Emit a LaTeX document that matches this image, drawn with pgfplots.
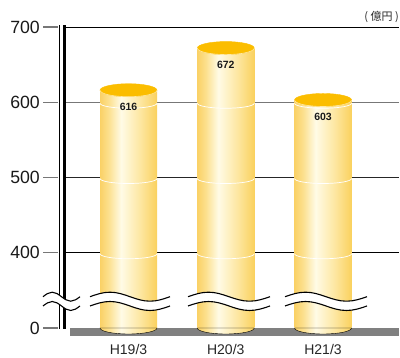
\documentclass[border=0pt]{standalone}
\usepackage{pgfplots}
\pgfplotsset{compat=1.18}
\usepackage{pgfplotstable}
\usepackage{fontspec}
\setmainfont{Liberation Sans}
\newfontfamily\cjk{Noto Sans CJK JP}

\definecolor{cylA}{HTML}{FAD166}
\definecolor{cylB}{HTML}{FCE08E}
\definecolor{cylC}{HTML}{FFFBE6}
\definecolor{cylD}{HTML}{FDE7A2}
\definecolor{cylE}{HTML}{FAD15E}
\definecolor{topc}{HTML}{FBBD00}
\definecolor{rimc}{HTML}{FFE9A6}
\definecolor{floorc}{HTML}{808080}
\definecolor{tickc}{HTML}{777777}

% horizontal gradient across each cylinder (path maps to 25bp..75bp)
\pgfdeclarehorizontalshading{cyl}{100bp}{color(0bp)=(cylA); color(25bp)=(cylA);
  color(32.5bp)=(cylB); color(43.5bp)=(cylC); color(60bp)=(cylD);
  color(75bp)=(cylE); color(100bp)=(cylE)}

% cylinder pieces used as plot marks
\pgfdeclareplotmark{cylbot}{%
  \shade[shading=cyl] (-28.5pt,0pt) arc[start angle=180,end angle=360,x radius=28.5pt,y radius=6pt] -- cycle;}
\pgfdeclareplotmark{cylring}{%
  \draw[white, line width=0.7pt] (-28.5pt,-1pt) arc[start angle=180,end angle=360,x radius=28.5pt,y radius=5pt];}
\pgfdeclareplotmark{cyltop}{%
  \fill[topc] (0pt,0pt) ellipse[x radius=28.5pt, y radius=6.5pt];
  \draw[rimc, line width=0.6pt] (-28.5pt,0pt) arc[start angle=180,end angle=360,x radius=28.5pt,y radius=6.5pt];}

% wavy axis break between x positions #1 and #2 (pt)
\newcommand\axisbreak[2]{%
  \pgfmathsetmacro\q{(#2-#1)/4}%
  \fill[white] (#1pt,31.3pt) sin ++(\q pt,4.5pt) cos ++(\q pt,-4.5pt) sin ++(\q pt,-4.5pt) cos ++(\q pt,4.5pt)
    -- ++(0,-9.3pt) sin ++(-\q pt,-4.5pt) cos ++(-\q pt,4.5pt) sin ++(-\q pt,4.5pt) cos ++(-\q pt,-4.5pt) -- cycle;
  \draw[black, line width=1.1pt] (#1pt,31.3pt) sin ++(\q pt,4.5pt) cos ++(\q pt,-4.5pt) sin ++(\q pt,-4.5pt) cos ++(\q pt,4.5pt);
  \draw[black, line width=1.1pt] (#1pt,22pt) sin ++(\q pt,4.5pt) cos ++(\q pt,-4.5pt) sin ++(\q pt,-4.5pt) cos ++(\q pt,4.5pt);
}

\pgfplotstableread{
x v
0 616
1 672
2 603
}\sales

\pgfplotsset{cylbody/.style={ybar, bar width=57pt, draw=none, shade, shading=cyl,
    y filter/.expression={y-300}}}

\begin{document}
\begin{tikzpicture}
\path[use as bounding box] (-65pt,-30pt) rectangle (335pt,328pt);
\begin{axis}[
  scale only axis, width=334pt, height=301pt,
  xmin=-0.653, xmax=2.781, ymin=0, ymax=400,
  clip=false,
  axis line style={draw=none},
  major tick length=0pt,
  xtick={0,1,2}, xticklabels={H19/3,H20/3,H21/3},
  ytick={0,100,200,300,400}, yticklabels={0,400,500,600,700},
  xticklabel style={anchor=base, inner sep=0pt, yshift=-27pt, font=\fontsize{14}{16}\selectfont, text=black!85},
  yticklabel style={anchor=east, inner sep=0pt, xshift=-25pt, font=\fontsize{17.7}{20}\selectfont, text=black!90},
  /pgf/number format/assume math mode=true,
]
% grid lines and floor
\draw[black, line width=0.8pt] (axis cs:-0.643,400) -- (axis cs:2.781,400);
\draw[tickc, line width=1pt] (axis cs:-0.643,300) -- (axis cs:2.781,300);
\draw[black!85, line width=0.8pt] (axis cs:-0.643,200) -- (axis cs:2.781,200);
\draw[black, line width=0.8pt] (axis cs:-0.643,100) -- (axis cs:2.781,100);
\fill[floorc] (axis cs:-0.602,-11) rectangle (axis cs:2.781,0);

% cylinders: bottom, body (one plot per bar so each gets its own gradient), rings, top
\addplot[only marks, mark=cylbot, y filter/.expression={0}] table[x=x,y=v]{\sales};
\addplot[cylbody, restrict x to domain=-0.5:0.5] table[x=x,y=v]{\sales};
\addplot[cylbody, restrict x to domain=0.5:1.5] table[x=x,y=v]{\sales};
\addplot[cylbody, restrict x to domain=1.5:2.5] table[x=x,y=v]{\sales};
\addplot[only marks, mark=cylring, y filter/.expression={100}] table[x=x,y=v]{\sales};
\addplot[only marks, mark=cylring, y filter/.expression={200}] table[x=x,y=v]{\sales};
\addplot[only marks, mark=cylring, y filter/.expression={300}] table[x=x,y=v]{\sales};
\addplot[only marks, mark=cyltop, y filter/.expression={y-300}, point meta=explicit,
  nodes near coords,
  every node near coord/.append style={anchor=center, yshift=-16.5pt, text=black!90,
    font=\bfseries\fontsize{10.5}{12}\selectfont}]
  table[x=x,y=v,meta=v]{\sales};
\end{axis}

% y axis double line and ticks
\draw[black, line width=1.2pt] (-5.5pt,-1pt) -- (-5.5pt,303pt);
\draw[black, line width=2.6pt] (-0.2pt,-1pt) -- (-0.2pt,303pt);
\foreach \t in {0,75.25,150.5,225.75,301}
  \draw[tickc, line width=1.2pt] (-21.7pt,\t pt) -- (-6.5pt,\t pt);

% axis break
\axisbreak{-22}{15}
\axisbreak{25}{105}
\axisbreak{123}{205}
\axisbreak{220}{302}

\node[anchor=east, inner sep=0pt, font=\cjk\fontsize{11}{13}\selectfont, text=black!85] at (334pt,311pt) {( 億円 )};
\end{tikzpicture}
\end{document}
